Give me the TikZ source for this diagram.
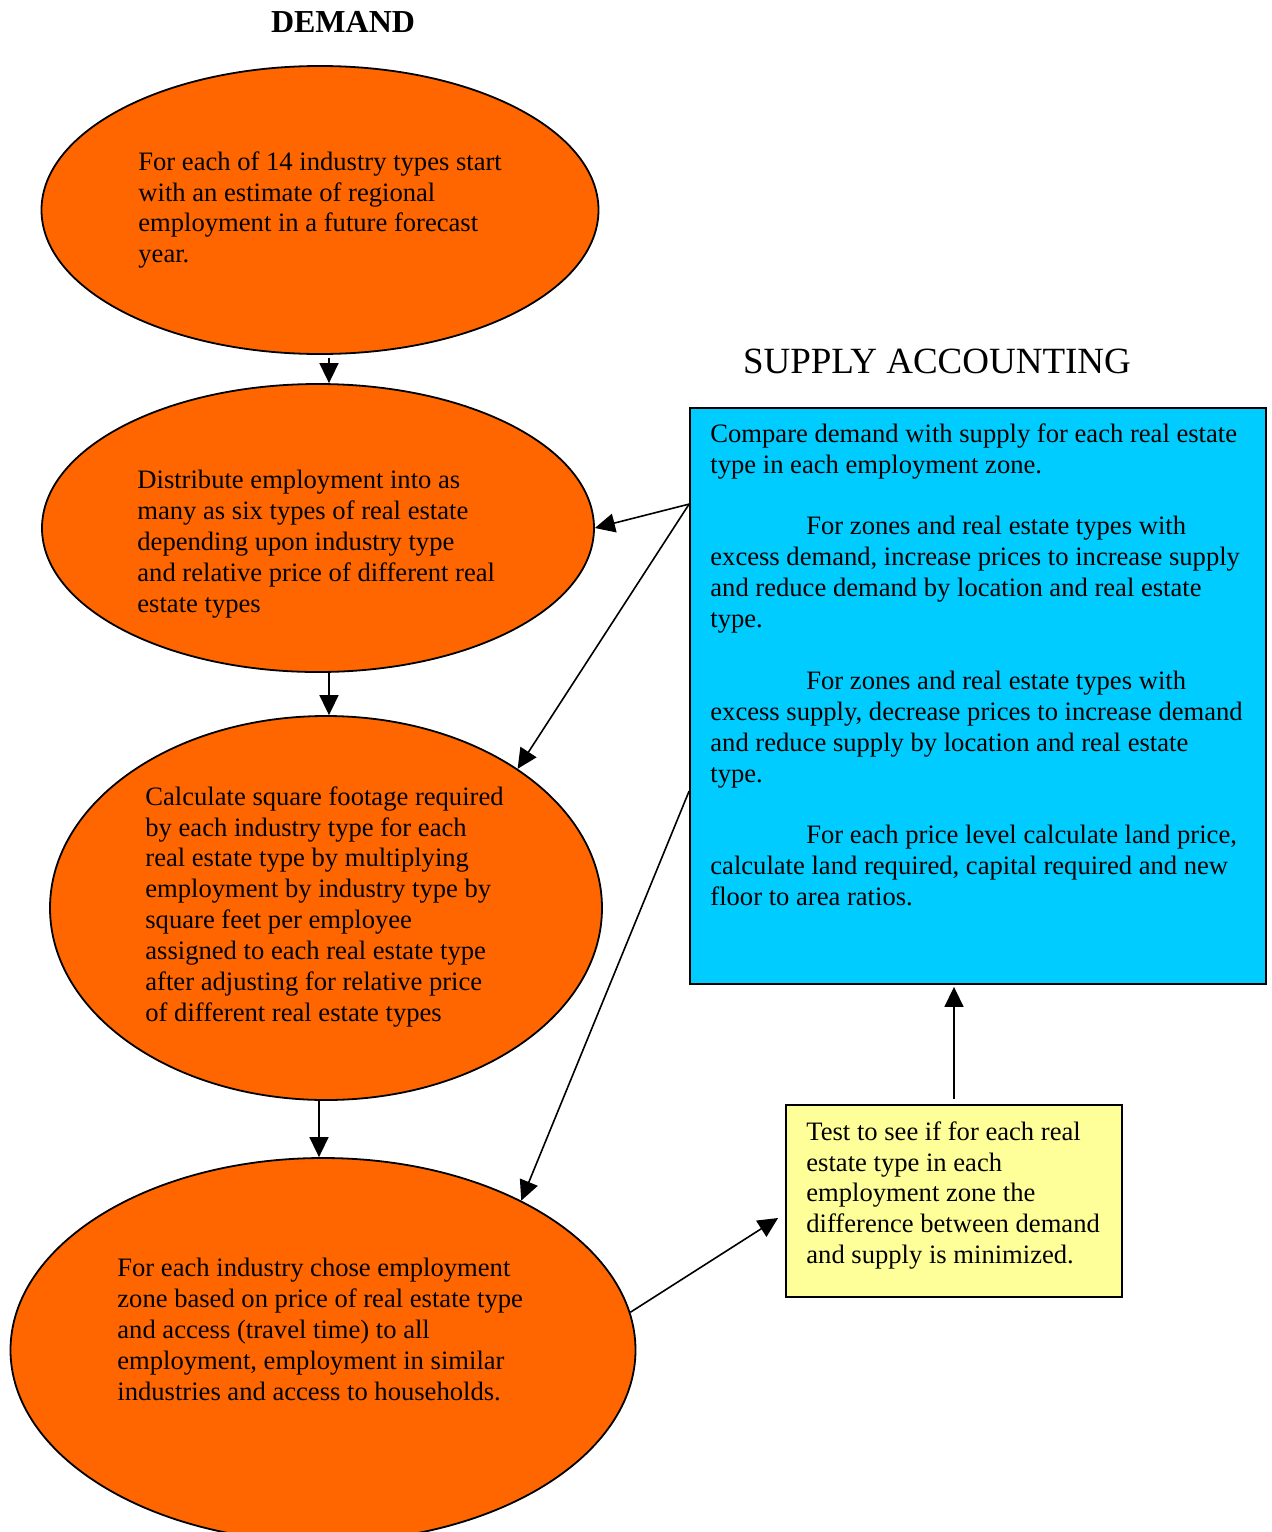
\documentclass[tikz,border=0pt]{standalone}
\usepackage{fontspec}
\setmainfont{Liberation Serif}
\usetikzlibrary{shapes.geometric,arrows.meta,calc}
\definecolor{orng}{HTML}{FF6600}
\definecolor{skyb}{HTML}{00CCFF}
\definecolor{paley}{HTML}{FFFF99}
\begin{document}
\begin{tikzpicture}[x=0.5pt,y=-0.5pt,
  oval/.style={ellipse,draw=black,line width=0.9pt,fill=orng,inner sep=0pt},
  bodytext/.style={align=left,inner sep=0pt,anchor=north west,font=\fontsize{13.3}{15.45}\selectfont},
  conn/.style={line width=0.8pt,-{Triangle[length=10pt,width=9.5pt]}}]
\useasboundingbox (0,0) rectangle (1272,1532);
\clip (0,0) rectangle (1272,1532);

\node[font=\fontsize{16}{19}\selectfont\bfseries,anchor=base] (demand) at (343,32) {DEMAND};
\node[font=\fontsize{18.5}{22}\selectfont,anchor=base] (supply) at (937,373) {SUPPLY ACCOUNTING};

\node[oval,minimum width=278.5pt,minimum height=144pt] (e1) at (320,210) {};
\node[oval,minimum width=276pt,minimum height=144pt] (e2) at (318,528) {};
\node[oval,minimum width=276pt,minimum height=192pt] (e3) at (326,908) {};
\node[oval,minimum width=312.5pt,minimum height=192pt] (e4) at (323,1350) {};

\node[draw=black,line width=0.9pt,fill=skyb,minimum width=288pt,minimum height=288pt,inner sep=0pt] (blue) at (978,696) {};
\node[draw=black,line width=0.9pt,fill=paley,minimum width=168pt,minimum height=96pt,inner sep=0pt] (yellow) at (954,1201) {};

\node[bodytext] (t1) at (138,151) {For each of 14 industry types start\\with an estimate of regional\\employment in a future forecast\\year.};
\node[bodytext] (t2) at (137,470) {Distribute employment into as\\many as six types of real estate\\depending upon industry type\\and relative price of different real\\estate types};
\node[bodytext] (t3) at (145,786) {Calculate square footage required\\by each industry type for each\\real estate type by multiplying\\employment by industry type by\\square feet per employee\\assigned to each real estate type\\after adjusting for relative price\\of different real estate types};
\node[bodytext] (t4) at (117,1258) {For each industry chose employment\\zone based on price of real estate type\\and access (travel time) to all\\employment, employment in similar\\industries and access to households.};
\node[bodytext] (t5) at (710,423) {Compare demand with supply for each real estate\\type in each employment zone.\\[15.45pt]
\hspace*{48pt}For zones and real estate types with\\excess demand, increase prices to increase supply\\and reduce demand by location and real estate\\type.\\[15.45pt]
\hspace*{48pt}For zones and real estate types with\\excess supply, decrease prices to increase demand\\and reduce supply by location and real estate\\type.\\[15.45pt]
\hspace*{48pt}For each price level calculate land price,\\calculate land required, capital required and new\\floor to area ratios.};
\node[bodytext] (t6) at (806,1121) {Test to see if for each real\\estate type in each\\employment zone the\\difference between demand\\and supply is minimized.};

\draw[conn] ([xshift=4.5pt,yshift=-1.5pt]e1.south) -- ([xshift=5.5pt]e2.north);
\draw[conn] ([xshift=5.5pt]e2.south) -- ([xshift=1.5pt]e3.north);
\draw[conn] ([xshift=-3.5pt]e3.south) -- ([xshift=-2pt]e4.north);
\coordinate (bA) at ([yshift=-48.5pt]blue.north west);
\coordinate (bB) at ([yshift=-192pt]blue.north west);
\draw[conn] (bA) -- (e2.east);
\draw[conn] (bA) -- (e3.36);
\draw[conn] (bB) -- (e4.37.5);
\draw[conn] (e4.7.5) -- ([xshift=-3.5pt,yshift=-8.5pt]yellow.west);
\coordinate (yt) at ([yshift=2.5pt]yellow.north);
\draw[conn] (yt) -- ([yshift=-1pt]yt |- blue.south);
\end{tikzpicture}
\end{document}
